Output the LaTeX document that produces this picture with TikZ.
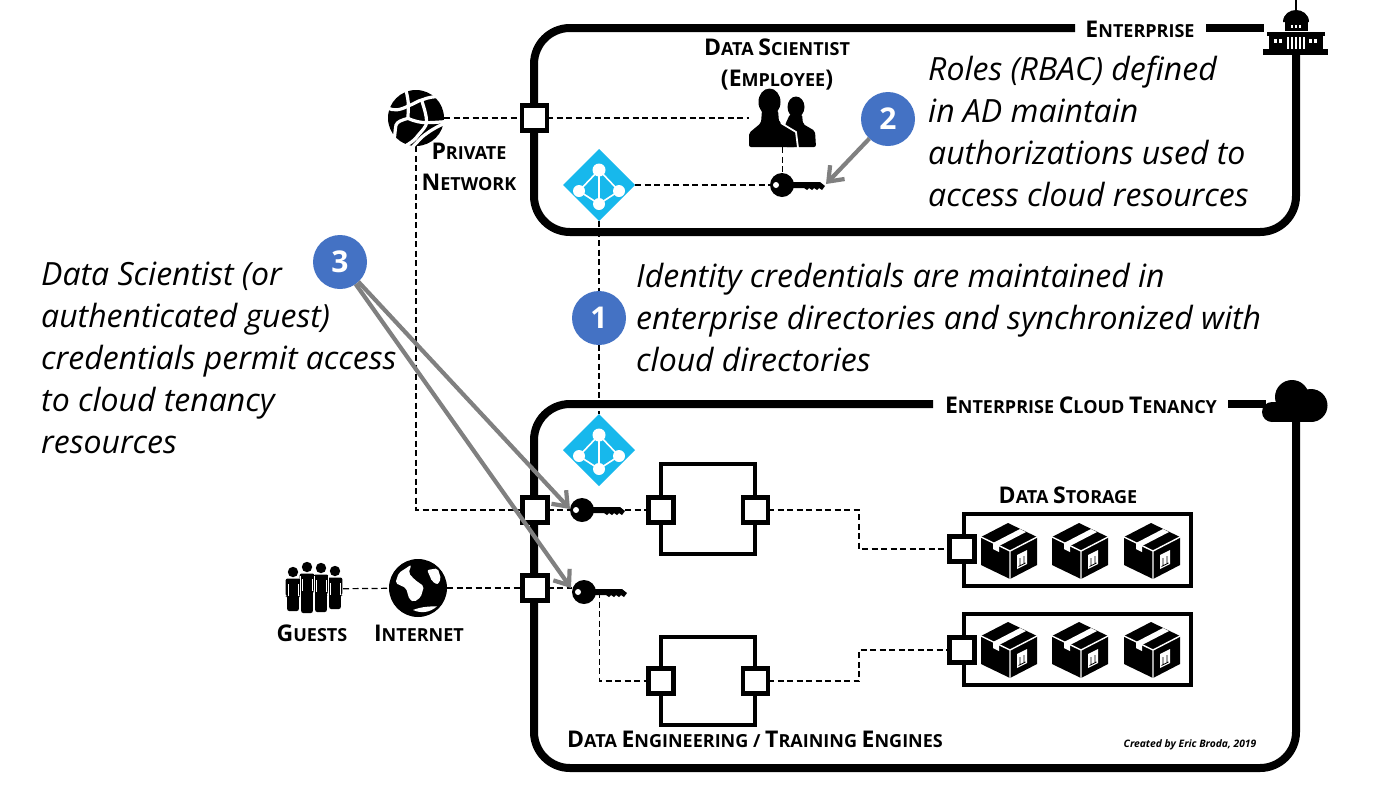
\documentclass[tikz,border=0pt]{standalone}
\usepackage{fontspec}
\setmainfont{Open Sans}
\usetikzlibrary{arrows.meta,calc}
\newcommand{\SCb}[1]{{\fontsize{23}{24}\selectfont #1}}
\newcommand{\glen}{40}
\tikzset{
 x=1pt,y=-1pt,
 frame/.style={line width=8pt,black,rounded corners=36pt},
 framebit/.style={line width=8pt,black},
 port/.style={draw=black,fill=white,line width=4.5pt,minimum size=25pt,inner sep=0pt,outer sep=0pt},
 engine/.style={draw=black,fill=white,line width=4pt,minimum width=94pt,inner sep=0pt,outer sep=0pt},
 store/.style={draw=black,fill=white,line width=4pt,minimum width=227pt,inner sep=0pt,outer sep=0pt},
 icon/.style={inner sep=0pt,outer sep=0pt},
 link/.style={black,line width=1.2pt,dash pattern=on 6pt off 3.5pt},
 callout/.style={draw=none,fill=bubble,circle,minimum size=54pt,inner sep=0pt,outer sep=0pt,text=white,font=\fontsize{30}{32}\selectfont\bfseries},
 pointer/.style={draw=pointergray,line width=4.2pt,-{Straight Barb[length=13pt,width=20pt,line width=4.2pt]}},
 label/.style={font=\fontsize{18}{31}\selectfont\bfseries,inner sep=0pt,align=center},
 note/.style={font=\fontsize{32}{42}\selectfont\itshape,inner sep=0pt,align=left,anchor=north west},
 keypic/.pic={
  \fill[black] (0,0) circle (12pt);
  \fill[black] (8,-3) -- (38,-3) -- (43,1) -- (40,5) -- (37,3) -- (35,5) -- (32,3) -- (30,5) -- (27,3) -- (25,5) -- (22,3) -- (8,3) -- cycle;
  \fill[white] (-6,0) circle (3pt);
 },
 adpic/.pic={
  \fill[adblue] (0,-36) -- (36,0) -- (0,36) -- (-36,0) -- cycle;
  \draw[white,line width=1.6pt] (0,-15) -- (-20,6) -- (0,19) -- (20,6) -- cycle (0,-15) -- (0,19);
  \fill[white] (0,-15) circle (6.5pt) (-20,6) circle (6pt) (20,6) circle (6pt) (0,19) circle (6pt);
 },
 boxpic/.pic={
  \fill[black] (-28,-14) -- (-1,-28) -- (28,-14) -- (28,14) -- (1,28) -- (-28,14) -- cycle;
  \draw[white,line width=1.4pt] (-29,-14.5) -- (1,0) -- (29,-14.5) (1,0) -- (1,29);
  \fill[white] (-16,-8) -- (11,-22) -- (17,-19) -- (-10,-5) -- (-10,1) -- (-16,-2) -- cycle;
  \fill[white] (8,4) -- (18,-1) -- (18,13) -- (8,18) -- cycle;
  \draw[black,line width=.8pt] (11,14) -- (11,7) (15,12) -- (15,5) (9.5,15.5) -- (16.5,12);
 },
 guestpic/.pic={
  \fill[black] (0,0) circle (5.2pt);
  \fill[black,rounded corners=2pt] (-7.4,6.5) -- (7.4,6.5) -- (7.4,24) -- (5.8,24) -- (5.8,\glen) -- (-5.8,\glen) -- (-5.8,24) -- (-7.4,24) -- cycle;
  \draw[white,line width=.5pt] (-4.8,12) -- (-4.8,24) (4.8,12) -- (4.8,24);
 },
}
\definecolor{adblue}{HTML}{17B8EC}
\definecolor{bubble}{HTML}{4472C4}
\definecolor{pointergray}{HTML}{808080}
\begin{document}
\begin{tikzpicture}
\useasboundingbox[fill=white] (0,0) rectangle (1400,788);
% frames
\draw[frame] (1075,28) -- (534,28) -- (534,232) -- (1296,232) -- (1296,50);
\draw[framebit] (1206,28) -- (1264,28);
\draw[frame] (933,404) -- (534,404) -- (534,768) -- (1296,768) -- (1296,415);
\draw[framebit] (1228,404) -- (1266,404);
% invisible icon anchors
\node[icon,minimum width=56pt,minimum height=56pt] (gp) at (416,118) {};
\node[icon,minimum width=58pt,minimum height=58pt] (gi) at (418,588) {};
\node[icon,minimum width=57pt,minimum height=52pt] (guests) at (314.5,589) {};
\node[icon,minimum width=67pt,minimum height=58pt] (ds) at (782.5,118) {};
\node[icon,minimum width=72pt,minimum height=72pt] (ad1) at (599,185) {};
\node[icon,minimum width=72pt,minimum height=72pt] (ad2) at (599,450) {};
\node[icon,minimum width=55pt,minimum height=24pt] (k1) at (797.5,185) {};
\node[icon,minimum width=55pt,minimum height=24pt] (k2) at (597.5,510) {};
\node[icon,minimum width=55pt,minimum height=24pt] (k3) at (599.5,592) {};
% ports on the frames
\node[port] (p1) at (534.5,118) {};
\node[port] (p2) at (535,510) {};
\node[port] (p3) at (535,588) {};
% engines and stores
\node[engine,minimum height=90pt] (e1) at (708,509) {};
\node[engine,minimum height=88pt] (e2) at (708,681) {};
\node[port] (e1l) at (661,510) {};
\node[port] (e1r) at (755.5,510) {};
\node[port] (e2l) at (661,681) {};
\node[port] (e2r) at (755.5,681) {};
\node[store,minimum height=72pt] (s1) at (1077.5,550) {};
\node[store,minimum height=71pt] (s2) at (1077.5,649.5) {};
\node[port] (s1p) at (962,549) {};
\node[port] (s2p) at (962,650) {};
\coordinate (m1) at (859,510);
\coordinate (m2) at (859,681);
\coordinate (t1) at (826,184);
\coordinate (t2) at (570,509);
\coordinate (t3) at (571,588);
% connectors
\draw[link] (gp) -- (p1);
\draw[link] (p1) -- (ds);
\draw[link] (ds.south) -- (k1.north -| ds.south);
\draw[link] (ad1.east) -- (k1.west);
\draw[link] (ad1.south) -- (ad2.north);
\draw[link] (gp.south) |- (p2.west);
\draw[link] (p2.east) -- (k2.west);
\draw[link] (k2.east) -- (e1l.west);
\draw[link] (e1r.east) -- (m1) |- (s1p.west);
\draw[link] (guests) -- (gi);
\draw[link] (gi) -- (p3);
\draw[link] (p3.east) -- (p3.east -| k3.west);
\draw[link] (k3.center) |- (e2l.west);
\draw[link] (e2r.east) -- (m2) |- (s2p.west);
% icons
\pic at (782,185) {keypic};
\pic at (582,510) {keypic};
\pic at (584,592) {keypic};
\pic at (599,185) {adpic};
\pic at (599,450) {adpic};
\foreach \px in {1009,1080,1152} {
 \pic at (\px,551) {boxpic};
 \pic at (\px,650) {boxpic};
}
% data scientist
\fill[black] (796,107) ellipse (8.5pt and 10.5pt);
\fill[black,rounded corners=2pt] (790,114) -- (802,114) -- (803,124) -- (815,131) -- (816,147) -- (785,147) -- (785,125) -- cycle;
\fill[black] (769.5,102) ellipse (11pt and 13.5pt);
\fill[black,rounded corners=2pt] (762,110) -- (778,110) -- (779,122) -- (794,131) -- (796,147) -- (749,147) -- (749,133) -- (761,123) -- cycle;
\draw[white,line width=1.8pt] (781,123) -- (796,132) -- (798,148);
% guests
\renewcommand{\glen}{39}
\pic at (293,572) {guestpic};
\renewcommand{\glen}{46}
\pic at (307,567) {guestpic};
\renewcommand{\glen}{44}
\pic at (321,568) {guestpic};
\renewcommand{\glen}{38}
\pic at (335,571) {guestpic};
\draw[white,line width=.6pt] (300.2,576) -- (300.2,614) (314,576) -- (314,614) (328,576) -- (328,614);
% private network globe
\fill[black] (gp) circle (28pt);
\begin{scope}[shift={(380,80)},x=1/3*1pt,y=-1/3*1pt,white,line width=3.2pt]
\draw (22,82) .. controls (40,95) and (60,90) .. (85,78) .. controls (105,70) and (115,62) .. (125,60) .. controls (145,52) and (165,48) .. (190,50);
\draw (78,30) .. controls (82,50) and (85,60) .. (85,78) .. controls (85,90) and (84,105) .. (84,115) .. controls (65,120) and (52,125) .. (48,135) .. controls (45,150) and (45,165) .. (42,180);
\draw (84,115) .. controls (105,125) and (125,128) .. (140,128) .. controls (160,128) and (180,126) .. (195,125);
\draw (125,60) .. controls (132,85) and (140,105) .. (140,128) .. controls (138,140) and (128,150) .. (115,165) .. controls (105,180) and (90,190) .. (72,200);
\draw (198,128) .. controls (170,140) and (145,155) .. (125,172) .. controls (110,188) and (100,198) .. (88,212);
\end{scope}
% internet globe
\fill[black] (gi) circle (29pt);
\begin{scope}[shift={(gi)},x=1/3*1pt,y=-1/3*1pt]
\fill[white,rounded corners=2pt] (-58,-45) -- (-20,-70) -- (-28,-45) -- (-10,-25) -- (18,-5) -- (8,28) -- (-12,42) -- (-26,34) -- (-36,0) -- (-68,-15) -- cycle;
\fill[white,rounded corners=2pt] (27,-54) -- (59,-59) -- (69,-28) -- (59,-10) -- (42,-20) -- (35,-37) -- cycle;
\fill[white] (-15,66) .. controls (10,56) and (35,55) .. (57,55) .. controls (35,74) and (10,77) .. (-15,66) -- cycle;
\end{scope}
% building
\draw[black,line width=2pt] (1296,0) -- (1296,12);
\fill[black] (1283,22) .. controls (1283,14) and (1290,10) .. (1296,10) .. controls (1302,10) and (1309,14) .. (1309,22) -- cycle;
\fill[black] (1285,21) rectangle (1308,31);
\fill[black] (1267,32) -- (1325,32) -- (1325,36) -- (1267,36) -- cycle;
\fill[black] (1269,36) rectangle (1323,49);
\fill[black] (1263,49) rectangle (1328,54.5);
\foreach \wx in {1274,1279,1309,1314} {\fill[white] (\wx,38.5) rectangle +(3,4);}
\foreach \wx in {1287,1291,1295,1299,1303} {\fill[white] (\wx,37) rectangle +(1.6,12);}
\foreach \wx in {1291,1295,1299} {\fill[white] (\wx,25) rectangle +(2,3);}
% cloud
\fill[black] (1292,397) circle (17pt) (1311,405.5) circle (16.5pt) (1272,412) circle (10pt);
\fill[black] (1272,402) rectangle (1311,422);
% labels
\node[label] (lent) at (1140,29) {\SCb{E}NTERPRISE};
\node[label] (lds) at (777,64.5) {\SCb{D}ATA \SCb{S}CIENTIST\\\SCb{(E}MPLOYEE\SCb{)}};
\node[label] (lpn) at (469,167) {\SCb{P}RIVATE\\\SCb{N}ETWORK};
\node[label] (lg) at (312,633) {\SCb{G}UESTS};
\node[label] (li) at (419,633) {\SCb{I}NTERNET};
\node[label] (lst) at (1068,495) {\SCb{D}ATA \SCb{S}TORAGE};
\node[label] (len) at (755,739) {\SCb{D}ATA \SCb{E}NGINEERING / \SCb{T}RAINING \SCb{E}NGINES};
\node[label] (lct) at (1081,405) {\SCb{E}NTERPRISE \SCb{C}LOUD \SCb{T}ENANCY};
\node[font=\fontsize{10.3}{11}\selectfont\itshape\bfseries,inner sep=0pt] (cr) at (1190,745) {Created by Eric Broda, 2019};
% notes
\node[note] (n2) at (928,56) {Roles (RBAC) defined\\in AD maintain\\authorizations used to\\access cloud resources};
\node[note] (n1) at (636,263) {Identity credentials are maintained in\\enterprise directories and synchronized with\\cloud directories};
\node[note] (n3) at (41,261.5) {Data Scientist (or\\authenticated guest)\\credentials permit access\\to cloud tenancy\\resources};
% callouts
\node[callout] (c1) at (599,318) {1};
\node[callout] (c2) at (888,119) {2};
\node[callout] (c3) at (340,262) {3};
\draw[pointer] (c2) -- (t1);
\draw[pointer] (c3) -- (t2);
\draw[pointer] (c3) -- (t3);
\end{tikzpicture}
\end{document}
